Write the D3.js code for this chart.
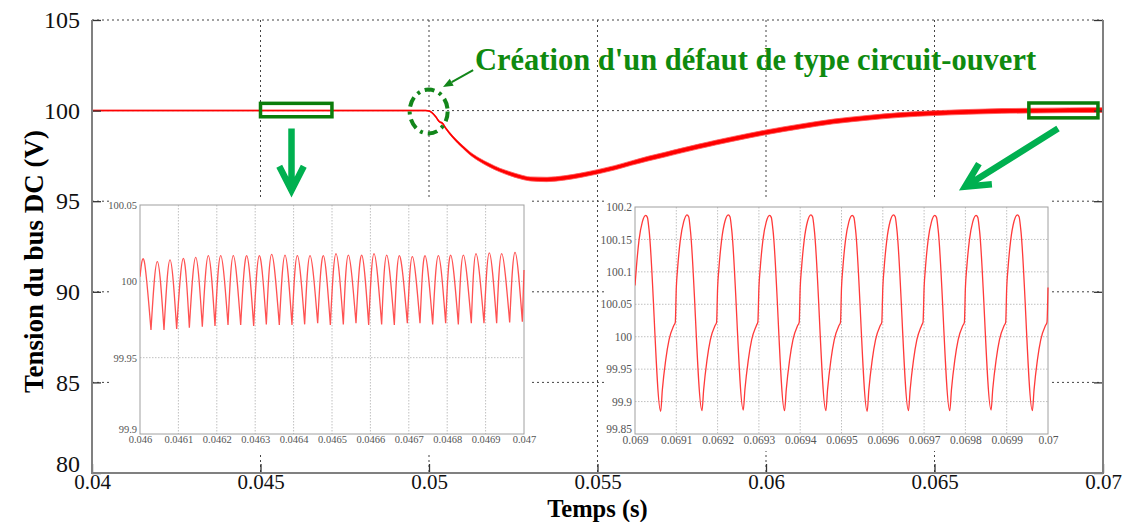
<!DOCTYPE html>
<html><head><meta charset="utf-8">
<script src="https://cdn.jsdelivr.net/npm/d3@7"></script>
<style>
body{margin:0;background:#fff}
svg{display:block;font-family:"Liberation Serif","Times New Roman",serif}
</style>
</head><body>
<svg id="chart" width="1131" height="522"></svg>
<script>
// ---------------- DATA ----------------
const xTicks = [0.04, 0.045, 0.05, 0.055, 0.06, 0.065, 0.07];
const yTicks = [80, 85, 90, 95, 100, 105];

// main DC bus voltage (centre of the ripple band)
const mainTime = [0.04, 0.045, 0.0499, 0.05, 0.0502, 0.0503, 0.0504, 0.0505, 0.0507, 0.051, 0.0512, 0.0515,
  0.0518, 0.0521, 0.0524, 0.0527, 0.053, 0.0535, 0.054, 0.0545, 0.055, 0.0555, 0.056, 0.0565, 0.057,
  0.0575, 0.058, 0.0585, 0.059, 0.0595, 0.06, 0.061, 0.062, 0.063, 0.064, 0.065, 0.066, 0.067, 0.068, 0.069, 0.07];
const mainVolt = [100, 100, 100, 99.98, 99.66, 99.4, 99.3, 99.02, 98.56, 98.0, 97.66, 97.28,
  96.98, 96.72, 96.52, 96.35, 96.23, 96.2, 96.28, 96.43, 96.62, 96.84, 97.1, 97.35, 97.57,
  97.8, 98.02, 98.23, 98.43, 98.62, 98.8, 99.12, 99.4, 99.6, 99.76, 99.86, 99.93, 99.98, 100.0, 100.02, 100.03];
// half height of the ripple band (V)
const mainRipple = [0.02, 0.02, 0.02, 0.02, 0.03, 0.04, 0.04, 0.05, 0.06, 0.07, 0.08, 0.09,
  0.1, 0.1, 0.11, 0.11, 0.11, 0.12, 0.12, 0.12, 0.12, 0.12, 0.12, 0.13, 0.13,
  0.13, 0.13, 0.13, 0.13, 0.13, 0.13, 0.13, 0.13, 0.13, 0.13, 0.13, 0.13, 0.13, 0.13, 0.13, 0.13];

// zoom 1 : 0.046 .. 0.047 s
const zoom1XTicks = [0.046, 0.0461, 0.0462, 0.0463, 0.0464, 0.0465, 0.0466, 0.0467, 0.0468, 0.0469, 0.047];
const zoom1YTicks = [99.9, 99.95, 100, 100.05];
const zoom1Start = [0.046, 100.003];
const zoom1End = [0.047, 100.0074];
const zoom1PeakT = [0.0460113, 0.0460451, 0.0460781, 0.0461128, 0.046145, 0.0461779, 0.0462101, 0.046243, 0.0462778, 0.0463108,
  0.0463429, 0.0463776, 0.0464097, 0.0464427, 0.0464774, 0.0465104, 0.0465425, 0.0465773, 0.0466094, 0.0466424,
  0.0466753, 0.0467092, 0.0467422, 0.0467769, 0.046809, 0.046842, 0.046875, 0.0469097, 0.0469418, 0.0469766];
const zoom1PeakV = [100.0129, 100.0129, 100.014, 100.0151, 100.0157, 100.0168, 100.0168, 100.0168, 100.0168, 100.0168,
  100.0177, 100.0172, 100.0168, 100.0168, 100.0168, 100.0181, 100.0172, 100.0172, 100.0181, 100.0172,
  100.0168, 100.0162, 100.0168, 100.0168, 100.0172, 100.0172, 100.0181, 100.0186, 100.0181, 100.019];
const zoom1TroughT = [0.0460286, 0.0460625, 0.0460955, 0.0461285, 0.0461623, 0.0461953, 0.0462292, 0.0462622, 0.046296, 0.046329,
  0.0463628, 0.0463958, 0.0464288, 0.0464627, 0.0464957, 0.0465295, 0.0465625, 0.0465955, 0.0466293, 0.0466623,
  0.0466962, 0.0467292, 0.0467622, 0.046796, 0.046829, 0.0468628, 0.0468958, 0.0469288, 0.0469627, 0.0469957];
const zoom1TroughV = [99.9681, 99.9681, 99.9688, 99.9697, 99.9703, 99.9707, 99.9714, 99.9714, 99.9707, 99.9718,
  99.9714, 99.9714, 99.9718, 99.9725, 99.9714, 99.9718, 99.9725, 99.9714, 99.9718, 99.9714,
  99.9725, 99.9725, 99.9718, 99.9725, 99.9718, 99.9725, 99.9725, 99.9725, 99.9731, 99.9736];

// zoom 2 : 0.069 .. 0.07 s
const zoom2XTicks = [0.069, 0.0691, 0.0692, 0.0693, 0.0694, 0.0695, 0.0696, 0.0697, 0.0698, 0.0699, 0.07];
const zoom2YTicks = [99.85, 99.9, 99.95, 100, 100.05, 100.1, 100.15, 100.2];
const zoom2Time = [
  0.0690000, 0.0690035, 0.0690097, 0.0690178, 0.0690258, 0.0690300, 0.0690340, 0.0690622, 0.0690662, 0.0690743, 0.0690824, 0.0690945, 0.0690975,
  0.0691000, 0.0691035, 0.0691097, 0.0691178, 0.0691258, 0.0691300, 0.0691340, 0.0691622, 0.0691662, 0.0691743, 0.0691824, 0.0691945, 0.0691975,
  0.0692000, 0.0692035, 0.0692097, 0.0692178, 0.0692258, 0.0692300, 0.0692340, 0.0692622, 0.0692662, 0.0692743, 0.0692824, 0.0692945, 0.0692975,
  0.0693000, 0.0693035, 0.0693097, 0.0693178, 0.0693258, 0.0693300, 0.0693340, 0.0693622, 0.0693662, 0.0693743, 0.0693824, 0.0693945, 0.0693975,
  0.0694000, 0.0694035, 0.0694097, 0.0694178, 0.0694258, 0.0694300, 0.0694340, 0.0694622, 0.0694662, 0.0694743, 0.0694824, 0.0694945, 0.0694975,
  0.0695000, 0.0695035, 0.0695097, 0.0695178, 0.0695258, 0.0695300, 0.0695340, 0.0695622, 0.0695662, 0.0695743, 0.0695824, 0.0695945, 0.0695975,
  0.0696000, 0.0696035, 0.0696097, 0.0696178, 0.0696258, 0.0696300, 0.0696340, 0.0696622, 0.0696662, 0.0696743, 0.0696824, 0.0696945, 0.0696975,
  0.0697000, 0.0697035, 0.0697097, 0.0697178, 0.0697258, 0.0697300, 0.0697340, 0.0697622, 0.0697662, 0.0697743, 0.0697824, 0.0697945, 0.0697975,
  0.0698000, 0.0698035, 0.0698097, 0.0698178, 0.0698258, 0.0698300, 0.0698340, 0.0698622, 0.0698662, 0.0698743, 0.0698824, 0.0698945, 0.0698975,
  0.0699000, 0.0699035, 0.0699097, 0.0699178, 0.0699258, 0.0699300, 0.0699340, 0.0699622, 0.0699662, 0.0699743, 0.0699824, 0.0699945, 0.0699975,
  0.0700000];
const zoom2Volt = [
  100.079, 100.108, 100.149, 100.177, 100.187, 100.184, 100.165, 99.885, 99.918, 99.964, 99.995, 100.018, 100.022,
  100.075, 100.108, 100.149, 100.177, 100.188, 100.185, 100.165, 99.886, 99.918, 99.964, 99.995, 100.018, 100.022,
  100.075, 100.108, 100.149, 100.178, 100.188, 100.185, 100.166, 99.887, 99.919, 99.964, 99.995, 100.018, 100.023,
  100.075, 100.108, 100.149, 100.177, 100.187, 100.184, 100.165, 99.886, 99.918, 99.964, 99.995, 100.018, 100.022,
  100.075, 100.108, 100.149, 100.178, 100.188, 100.185, 100.166, 99.886, 99.918, 99.964, 99.995, 100.018, 100.022,
  100.075, 100.108, 100.149, 100.177, 100.187, 100.184, 100.165, 99.885, 99.918, 99.964, 99.995, 100.018, 100.022,
  100.075, 100.108, 100.149, 100.178, 100.188, 100.185, 100.166, 99.886, 99.918, 99.964, 99.995, 100.018, 100.023,
  100.075, 100.108, 100.149, 100.177, 100.187, 100.184, 100.165, 99.886, 99.918, 99.964, 99.995, 100.018, 100.022,
  100.075, 100.108, 100.149, 100.177, 100.187, 100.184, 100.165, 99.887, 99.919, 99.964, 99.995, 100.018, 100.022,
  100.075, 100.108, 100.149, 100.178, 100.188, 100.185, 100.166, 99.886, 99.918, 99.964, 99.995, 100.018, 100.022,
  100.076];

// annotation texts
const yTitle = "Tension du bus DC (V)";
const xTitle = "Temps (s)";
const faultText = "Création d'un défaut de type circuit-ouvert";

// ---------------- DRAW ----------------
const svg = d3.select("#chart");
const plot = {l: 92, r: 1103, t: 20, b: 473};
const x = d3.scaleLinear().domain([0.04, 0.07]).range([plot.l, plot.r]);
const y = d3.scaleLinear().domain([80, 105]).range([plot.b, plot.t]);

svg.append("rect").attr("width", 1131).attr("height", 522).attr("fill", "#fff");

// grid
const grid = svg.append("g").attr("stroke", "#444").attr("stroke-width", 1).attr("stroke-dasharray", "2,3");
grid.selectAll("line.gx").data(xTicks.slice(1, -1)).join("line")
  .attr("x1", d => x(d)).attr("x2", d => x(d)).attr("y1", plot.t).attr("y2", plot.b);
grid.selectAll("line.gy").data(yTicks.slice(1)).join("line")
  .attr("y1", d => y(d)).attr("y2", d => y(d)).attr("x1", plot.l).attr("x2", plot.r);

// main trace
svg.append("clipPath").attr("id", "clipMain").append("rect")
  .attr("x", plot.l).attr("y", plot.t).attr("width", plot.r - plot.l).attr("height", plot.b - plot.t);
const mainData = mainTime.map((t, i) => ({t, v: mainVolt[i], r: mainRipple[i]}));
const gMain = svg.append("g").attr("clip-path", "url(#clipMain)");
gMain.append("path").datum(mainData)
  .attr("d", d3.area().x(d => x(d.t)).y0(d => y(d.v - d.r)).y1(d => y(d.v + d.r)).curve(d3.curveMonotoneX))
  .attr("fill", "#ff0000").attr("stroke", "#ff5a5a").attr("stroke-width", 0.8);
gMain.append("path").datum(mainData)
  .attr("d", d3.line().x(d => x(d.t)).y(d => y(d.v)).curve(d3.curveMonotoneX))
  .attr("fill", "none").attr("stroke", "#ff0000").attr("stroke-width", 1.5);

// axes
const axL = svg.append("g").attr("transform", `translate(${plot.l},0)`)
  .call(d3.axisLeft(y).tickValues(yTicks).tickSize(-9).tickPadding(12).tickFormat(d => String(d)));
const axR = svg.append("g").attr("transform", `translate(${plot.r},0)`)
  .call(d3.axisRight(y).tickValues(yTicks).tickSize(-9).tickFormat(""));
const axB = svg.append("g").attr("transform", `translate(0,${plot.b})`)
  .call(d3.axisBottom(x).tickValues(xTicks).tickSize(-9).tickPadding(1).tickFormat(d => String(d)));
[axL, axR, axB].forEach(a => {
  a.select(".domain").remove();
  a.selectAll(".tick line").attr("stroke", "#333").attr("stroke-width", 1.3);
  a.selectAll("text").attr("fill", "#111").attr("font-size", 24)
    .attr("font-family", '"Liberation Serif","Times New Roman",serif');
});
axL.selectAll(".tick").filter(d => d === 80).select("text").attr("dy", "-0.05em");
axB.selectAll("text").attr("font-size", 21).attr("dy", "0.7em");

// frame
const frame = svg.append("g").attr("stroke", "#808080").attr("stroke-width", 2).attr("fill", "none");
frame.append("path").attr("d", `M${plot.l},${plot.t}V${plot.b}H${plot.r}V${plot.t}`);

// titles
svg.append("text").attr("transform", `translate(43,${(plot.t + plot.b) / 2 + 15}) rotate(-90)`)
  .attr("text-anchor", "middle").attr("font-weight", "bold").attr("font-size", 27).attr("fill", "#000")
  .text(yTitle);
svg.append("text").attr("x", (plot.l + plot.r) / 2).attr("y", 516.5)
  .attr("text-anchor", "middle").attr("font-weight", "bold").attr("font-size", 24.5).attr("fill", "#000")
  .text(xTitle);

// ---------------- INSETS ----------------
function inset(cfg) {
  const g = svg.append("g");
  g.append("rect").attr("x", cfg.bg[0]).attr("y", cfg.bg[1]).attr("width", cfg.bg[2]).attr("height", cfg.bg[3]).attr("fill", "#fff");
  const sx = d3.scaleLinear().domain(cfg.xd).range([cfg.box.l, cfg.box.r]);
  const sy = d3.scaleLinear().domain(cfg.yd).range([cfg.box.b, cfg.box.t]);
  const gg = g.append("g").attr("stroke", "#b0b0b0").attr("stroke-width", 0.8).attr("stroke-dasharray", "1.5,1.5");
  gg.selectAll("line.x").data(cfg.xt.slice(1, -1)).join("line")
    .attr("x1", d => sx(d)).attr("x2", d => sx(d)).attr("y1", cfg.box.t).attr("y2", cfg.box.b);
  gg.selectAll("line.y").data(cfg.yt.slice(1, -1)).join("line")
    .attr("x1", cfg.box.l).attr("x2", cfg.box.r).attr("y1", d => sy(d)).attr("y2", d => sy(d))
    .attr("stroke-dasharray", d => cfg.solidY === d ? null : "1.5,1.5");
  g.append("rect").attr("x", cfg.box.l).attr("y", cfg.box.t).attr("width", cfg.box.r - cfg.box.l).attr("height", cfg.box.b - cfg.box.t)
    .attr("fill", "none").attr("stroke", "#a0a0a0").attr("stroke-width", 1);
  const ax = g.append("g").attr("transform", `translate(0,${cfg.box.b})`)
    .call(d3.axisBottom(sx).tickValues(cfg.xt).tickSize(0).tickPadding(2).tickFormat(d => String(d)));
  const ay = g.append("g").attr("transform", `translate(${cfg.box.l},0)`)
    .call(d3.axisLeft(sy).tickValues(cfg.yt).tickSize(0).tickPadding(3).tickFormat(d => String(d)));
  [ax, ay].forEach(a => {
    a.select(".domain").remove();
    a.selectAll("text").attr("fill", "#555").attr("font-size", cfg.fs)
      .attr("font-family", '"Liberation Serif","Times New Roman",serif');
  });
  // lowest y label sits just above the first x label, as in the original
  ay.selectAll(".tick").filter((d, i) => i === 0).select("text").attr("dy", "-0.15em");
  g.append("clipPath").attr("id", cfg.id).append("rect")
    .attr("x", cfg.box.l).attr("y", cfg.box.t - 1).attr("width", cfg.box.r - cfg.box.l + 1).attr("height", cfg.box.b - cfg.box.t + 2);
  return {g: g.append("g").attr("clip-path", `url(#${cfg.id})`), sx, sy};
}

// inset 1
{
  const {g, sx, sy} = inset({
    id: "clip1", bg: [110, 197, 422, 256], box: {l: 140, t: 205, r: 524, b: 434},
    xd: [0.046, 0.047], yd: [99.9, 100.05], xt: zoom1XTicks, yt: zoom1YTicks, fs: 10.5, solidY: 100
  });
  const segs = [];
  segs.push([zoom1Start, [zoom1PeakT[0], zoom1PeakV[0]], [zoom1TroughT[0], zoom1TroughV[0]]]);
  for (let k = 1; k < zoom1PeakT.length; k++) {
    segs.push([[zoom1TroughT[k - 1], zoom1TroughV[k - 1]], [zoom1PeakT[k], zoom1PeakV[k]], [zoom1TroughT[k], zoom1TroughV[k]]]);
  }
  const last = zoom1TroughT.length - 1;
  segs.push([[zoom1TroughT[last], zoom1TroughV[last]], zoom1End]);
  const arc = d3.line().x(d => sx(d[0])).y(d => sy(d[1])).curve(d3.curveNatural);
  g.append("path").attr("d", segs.map(s => arc(s)).join(""))
    .attr("fill", "none").attr("stroke", "#ff5252").attr("stroke-width", 1.3).attr("stroke-linejoin", "miter");
}

// inset 2
{
  const {g, sx, sy} = inset({
    id: "clip2", bg: [604, 197, 448, 254], box: {l: 635, t: 207, r: 1048, b: 434},
    xd: [0.069, 0.07], yd: [99.85, 100.2], xt: zoom2XTicks, yt: zoom2YTicks, fs: 11.5
  });
  g.append("path").datum(zoom2Time.map((t, i) => [t, zoom2Volt[i]]))
    .attr("d", d3.line().x(d => sx(d[0])).y(d => sy(d[1])).curve(d3.curveMonotoneX))
    .attr("fill", "none").attr("stroke", "#ff3a3a").attr("stroke-width", 1.3);
}

// ---------------- ANNOTATIONS ----------------
const darkGreen = "#0b7d0b", brightGreen = "#00b050";
function boxMark(t0, t1, v0, v1) {
  svg.append("rect").attr("x", x(t0)).attr("y", y(v1)).attr("width", x(t1) - x(t0)).attr("height", y(v0) - y(v1))
    .attr("fill", "none").attr("stroke", darkGreen).attr("stroke-width", 3.5);
}
boxMark(0.045, 0.04712, 99.66, 100.4);
boxMark(0.0678, 0.06985, 99.6, 100.42);

function bigArrow(t0, v0, t1, v1) {
  const x0 = x(t0), y0 = y(v0), x1 = x(t1), y1 = y(v1);
  const ang = Math.atan2(y0 - y1, x0 - x1), L = 27, a = 27 * Math.PI / 180;
  const p1 = [x1 + L * Math.cos(ang + a), y1 + L * Math.sin(ang + a)];
  const p2 = [x1 + L * Math.cos(ang - a), y1 + L * Math.sin(ang - a)];
  svg.append("path").attr("d", `M${x0},${y0}L${x1},${y1}M${p1[0]},${p1[1]}L${x1},${y1}L${p2[0]},${p2[1]}`)
    .attr("fill", "none").attr("stroke", brightGreen).attr("stroke-width", 6.5).attr("stroke-linejoin", "miter");
}
bigArrow(0.04592, 99.01, 0.04592, 95.6);
bigArrow(0.068665, 99.01, 0.065905, 95.8);

// dashed circle around fault instant
svg.append("ellipse").attr("cx", x(0.04999)).attr("cy", y(99.95)).attr("rx", 19).attr("ry", 22)
  .attr("fill", "none").attr("stroke", "#12861a").attr("stroke-width", 4).attr("stroke-dasharray", "10,5,3,5");

// small arrow + text
{
  const x0 = x(0.05131), y0 = y(102.23), x1 = x(0.050415), y1 = y(101.3);
  const ang = Math.atan2(y1 - y0, x1 - x0), L = 10, W = 4;
  const bx = x1 - L * Math.cos(ang), by = y1 - L * Math.sin(ang);
  svg.append("line").attr("x1", x0).attr("y1", y0).attr("x2", bx).attr("y2", by)
    .attr("stroke", "#12861a").attr("stroke-width", 2);
  svg.append("path").attr("d", `M${x1},${y1}L${bx - W * Math.sin(ang)},${by + W * Math.cos(ang)}L${bx + W * Math.sin(ang)},${by - W * Math.cos(ang)}Z`)
    .attr("fill", "#12861a");
}
svg.append("text").attr("x", x(0.051365)).attr("y", 70).attr("font-weight", "bold").attr("font-size", 30.5)
  .attr("fill", "#0f8a0f").text(faultText);
</script>
</body></html>
